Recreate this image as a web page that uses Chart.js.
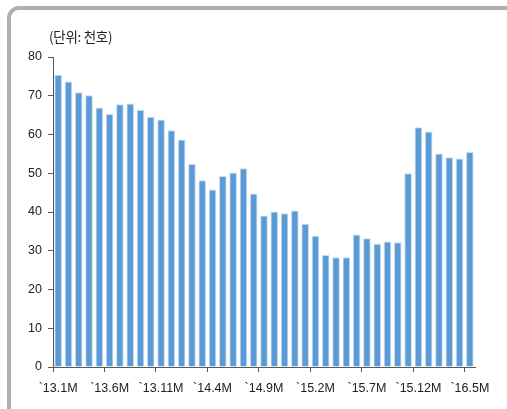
<!DOCTYPE html>
<html>
<head>
<meta charset="utf-8">
<script src="https://cdn.jsdelivr.net/npm/chart.js@4"></script>
<style>
  html, body { margin: 0; padding: 0; background: #fff; overflow: hidden; }
  #wrap { position: relative; width: 507px; height: 409px; overflow: hidden; }
  #unit {
    position: absolute; left: 49px; top: 27px;
    font-family: "Noto Sans CJK KR", sans-serif; font-size: 13.5px; color: #222;
    line-height: 18px; letter-spacing: -0.3px;
  }
  canvas { position: absolute; left: 0; top: 0; }
</style>
</head>
<body>
<div id="wrap">
  <canvas id="c" width="507" height="409"></canvas>
  <div id="unit">(단위: 천호)</div>
</div>
<script>
// Monthly categories, Jan 2013 – May 2016
const months = [
  "`13.1M","`13.2M","`13.3M","`13.4M","`13.5M","`13.6M","`13.7M","`13.8M","`13.9M","`13.10M","`13.11M","`13.12M",
  "`14.1M","`14.2M","`14.3M","`14.4M","`14.5M","`14.6M","`14.7M","`14.8M","`14.9M","`14.10M","`14.11M","`14.12M",
  "`15.1M","`15.2M","`15.3M","`15.4M","`15.5M","`15.6M","`15.7M","`15.8M","`15.9M","`15.10M","`15.11M","`15.12M",
  "`16.1M","`16.2M","`16.3M","`16.4M","`16.5M"
];

// Values in thousand units
const values = [
  75.4, 73.7, 70.9, 70.1, 67.0, 65.3, 67.8, 68.0, 66.3, 64.6, 63.9, 61.1,
  58.7, 52.4, 48.2, 45.8, 49.3, 50.2, 51.3, 44.8, 39.1, 40.1, 39.7, 40.4,
  37.0, 33.9, 28.9, 28.3, 28.3, 34.2, 33.2, 31.8, 32.4, 32.2, 50.0, 61.9,
  60.8, 55.1, 54.1, 53.8, 55.5
];

// Every fifth month gets a label
const labelEvery = 5;

const axisColor = '#595959';
const tickFont = { family: "'Liberation Sans', Arial, sans-serif", size: 12.5 };

// Grey panel edge along the top and left, rounded at the corner
const panelEdge = {
  id: 'panelEdge',
  beforeDraw(chart) {
    const ctx = chart.ctx;
    ctx.save();
    ctx.strokeStyle = '#b0b0b0';
    ctx.lineWidth = 4;
    ctx.beginPath();
    ctx.moveTo(9, chart.height + 5);
    ctx.lineTo(9, 18);
    ctx.arcTo(9, 8, 19, 8, 10);
    ctx.lineTo(chart.width + 5, 8);
    ctx.stroke();
    ctx.restore();
  }
};

new Chart(document.getElementById('c'), {
  type: 'bar',
  data: {
    labels: months,
    datasets: [{
      data: values,
      backgroundColor: '#5b9bd5',
      borderColor: '#c6dcf0',
      borderWidth: 1,
      barPercentage: 0.74,
      categoryPercentage: 1.0
    }]
  },
  options: {
    responsive: false,
    animation: false,
    layout: { padding: { left: 0, top: 57, right: 32, bottom: 0 } },
    plugins: { legend: { display: false }, tooltip: { enabled: false } },
    scales: {
      x: {
        offset: true,
        grid: {
          offset: true,
          drawOnChartArea: false,
          tickLength: 5,
          color: ctx => (ctx.index % labelEvery === 0 && ctx.index < months.length) ? axisColor : 'rgba(0,0,0,0)'
        },
        border: { color: axisColor, width: 1 },
        ticks: {
          autoSkip: false,
          maxRotation: 0,
          minRotation: 0,
          padding: 9,
          color: '#222',
          font: tickFont,
          callback: (v, i) => (i % labelEvery === 0 ? months[i] : '')
        },
        afterFit: s => { s.height = 42; }
      },
      y: {
        min: 0,
        max: 80,
        ticks: { stepSize: 10, padding: 6, color: '#222', font: tickFont },
        grid: { drawOnChartArea: false, tickLength: 5, color: axisColor },
        border: { color: axisColor, width: 1 },
        afterFit: s => { s.width = 53; }
      }
    }
  },
  plugins: [panelEdge]
});
</script>
</body>
</html>
